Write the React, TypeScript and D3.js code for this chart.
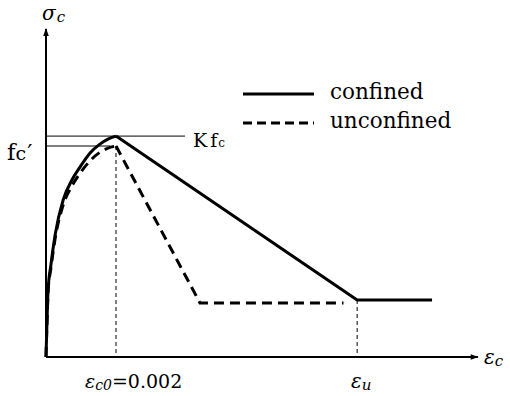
import React from "react";
import * as d3 from "d3";

// Stress–strain model for confined and unconfined concrete (σ normalised by fc')
const confinedRise: [number, number][] = [
  [0, 0], [0.00003, 0.175], [0.00006, 0.318], [0.00014, 0.436], [0.00026, 0.578],
  [0.00049, 0.744], [0.00074, 0.839], [0.00097, 0.9], [0.00126, 0.967],
  [0.00154, 1.009], [0.00177, 1.033], [0.002, 1.047],
];
const confinedFall: [number, number][] = [[0.002, 1.047], [0.00889, 0.27], [0.01103, 0.27]];

const unconfinedRise: [number, number][] = [
  [0, 0], [0.00003, 0.17], [0.00006, 0.31], [0.00014, 0.42], [0.00026, 0.56],
  [0.00049, 0.72], [0.00074, 0.81], [0.00097, 0.87], [0.00126, 0.93],
  [0.00154, 0.97], [0.00177, 0.99], [0.002, 1.0],
];
const unconfinedFall: [number, number][] = [[0.002, 1.0], [0.0044, 0.256], [0.0085, 0.256]];

const epsC0 = 0.002;
const epsU = 0.00889;
const kfc = 1.047;
const fc = 1.0;
const xAxisEnd = 0.01234;
const yAxisEnd = 1.555;

const legendItems = ["confined", "unconfined"];

export default function App() {
  const x = d3.scaleLinear().domain([0, 0.002]).range([46, 116]);
  const y = d3.scaleLinear().domain([0, 1]).range([357, 146]);

  const curve = d3
    .line<[number, number]>()
    .x((d) => x(d[0]))
    .y((d) => y(d[1]))
    .curve(d3.curveMonotoneX);
  const straight = d3
    .line<[number, number]>()
    .x((d) => x(d[0]))
    .y((d) => y(d[1]));

  const serif = "'DejaVu Serif', 'Liberation Serif', serif";

  return (
    <svg width={510} height={396} style={{ position: "absolute", left: 0, top: 0, background: "#fff" }}>
      <defs>
        <marker id="arrow" viewBox="0 0 10 10" refX="9" refY="5" markerWidth="8" markerHeight="4" orient="auto" markerUnits="strokeWidth">
          <path d="M0,1.5 L10,5 L0,8.5 Z" fill="#000" />
        </marker>
      </defs>

      {/* axes */}
      <line x1={x(0)} y1={y(0)} x2={x(0)} y2={y(yAxisEnd)} stroke="#000" strokeWidth={2} markerEnd="url(#arrow)" />
      <line x1={x(0)} y1={y(0)} x2={x(xAxisEnd)} y2={y(0)} stroke="#000" strokeWidth={2} markerEnd="url(#arrow)" />

      {/* reference lines */}
      <line x1={x(0)} y1={y(kfc)} x2={x(0.00397)} y2={y(kfc)} stroke="#000" strokeWidth={1} />
      <line x1={x(0)} y1={y(fc)} x2={x(0.00183)} y2={y(fc)} stroke="#000" strokeWidth={1} />
      <line x1={x(epsC0)} y1={y(fc)} x2={x(epsC0)} y2={y(0)} stroke="#000" strokeWidth={1} strokeDasharray="4,3" />
      <line x1={x(epsU)} y1={y(0.27)} x2={x(epsU)} y2={y(0)} stroke="#000" strokeWidth={1} strokeDasharray="4,3" />

      {/* unconfined */}
      <path d={curve(unconfinedRise) || ""} fill="none" stroke="#000" strokeWidth={3} strokeDasharray="10,6" />
      <path d={straight(unconfinedFall) || ""} fill="none" stroke="#000" strokeWidth={3} strokeDasharray="10,6" />

      {/* confined */}
      <path d={curve(confinedRise) || ""} fill="none" stroke="#000" strokeWidth={3} />
      <path d={straight(confinedFall) || ""} fill="none" stroke="#000" strokeWidth={3} strokeLinejoin="round" />

      {/* legend */}
      <line x1={243} y1={94} x2={314} y2={94} stroke="#000" strokeWidth={3} />
      <line x1={243} y1={123} x2={314} y2={123} stroke="#000" strokeWidth={3} strokeDasharray="9,5" />
      <text x={330} y={99} fontFamily={serif} fontSize={21.5}>{legendItems[0]}</text>
      <text x={330} y={128} fontFamily={serif} fontSize={21.5}>{legendItems[1]}</text>

      {/* labels */}
      <text x={42} y={20} fontFamily={serif} fontSize={20} fontStyle="italic">
        σ<tspan fontSize={15} dy={2} dx={1}>c</tspan>
      </text>
      <text x={7} y={160} fontFamily={serif} fontSize={23}>
        f<tspan fontSize={19}>c</tspan><tspan dx={1}>′</tspan>
      </text>
      <text x={193} y={147} fontFamily={serif} fontSize={19}>
        K<tspan dx={3}>f</tspan><tspan fontSize={12} dx={1}>c</tspan>
      </text>
      <text x={484} y={364} fontFamily={serif} fontSize={20} fontStyle="italic">
        ε<tspan fontSize={15} dy={2}>c</tspan>
      </text>
      <text x={85} y={388} fontFamily={serif} fontSize={19}>
        <tspan fontStyle="italic">ε</tspan>
        <tspan fontSize={14} fontStyle="italic" dy={2}>c0</tspan>
        <tspan dy={-2}>=0.002</tspan>
      </text>
      <text x={351} y={388} fontFamily={serif} fontSize={20} fontStyle="italic">
        ε<tspan fontSize={15} dy={2}>u</tspan>
      </text>
    </svg>
  );
}
